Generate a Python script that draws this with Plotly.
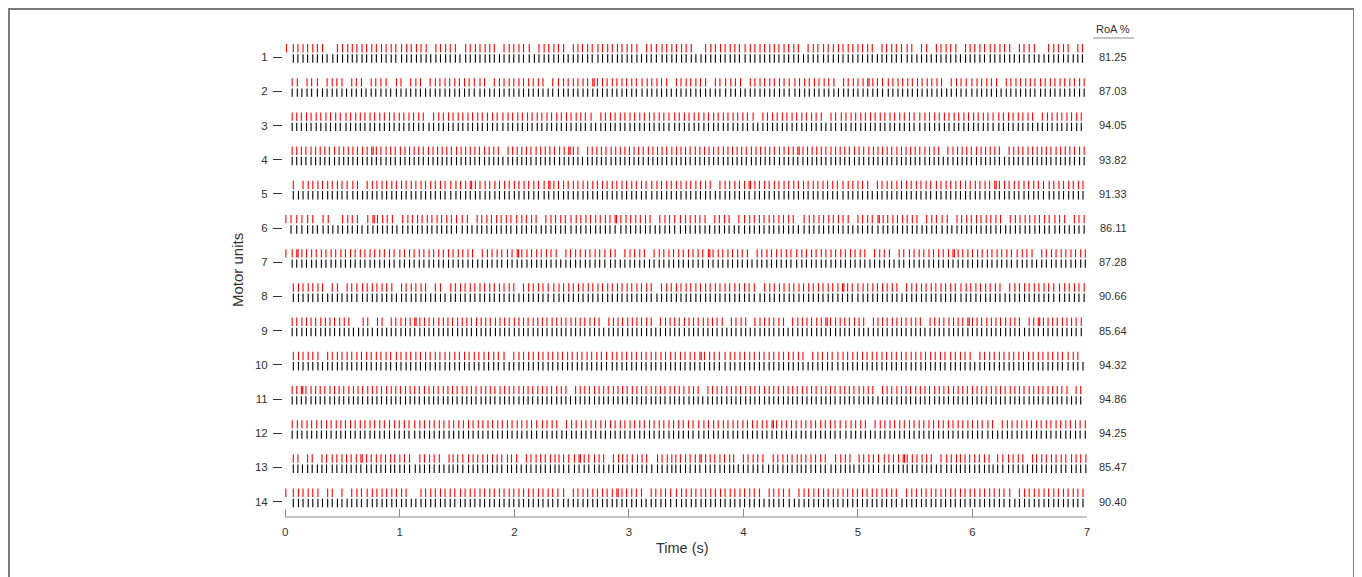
import plotly.graph_objects as go

# ---------------- data ----------------
units = list(range(1, 15))
unit_labels = [str(u) for u in units]
roa_values = ["81.25", "87.03", "94.05", "93.82", "91.33", "86.11", "87.28",
              "90.66", "85.64", "94.32", "94.86", "94.25", "85.47", "90.40"]
x_tick_vals = [0, 1, 2, 3, 4, 5, 6, 7]
x_tick_text = ["0", "1", "2", "3", "4", "5", "6", "7"]

# first black spike time (s) for each unit
train_start = [0.07, 0.06, 0.06, 0.06, 0.07, 0.05, 0.06, 0.07, 0.06, 0.07, 0.06, 0.06, 0.07, 0.07]
# isolated early red spike near t = 0 (None when absent)
red_lead = [0.01, None, None, None, None, 0.005, 0.005, None, None, None, None, None, None, 0.005]

# black (reference) trains: inter-spike intervals, base-36 chars, unit = 5 ms
black_isi = [
    "8989898a89" "9889898989" "8a98989898" "9898a89898" "8989898a98" "9898989889" "8a89898989" "8989a89898" "9898989898" "8a98989889" "8989898a89" "9898989898" "8989a89898" "9898989889" "8a89898989" "9898989898" "8989a89898",
    "9898a98989" "8989898998" "a898989898" "9898989a89" "8989898989" "898a989898" "9898989898" "a989898989" "8989898a98" "9898989898" "9a89898989" "8989898989" "a898989898" "9898989a98" "9898989898" "8a89898989" "8989898989",
    "8898989898" "a898898989" "8989898a89" "8989898989" "98a9898989" "8989898988" "a898989898" "9898989a89" "8989898989" "898a898989" "8989898989" "8a89898989" "8989898a98" "9898989898" "989a898989" "8989898989" "8a89898989",
    "8889888898" "8888988889" "8898888898" "8888988888" "9888898888" "8988889888" "8898888988" "8888898888" "9888898888" "8988888988" "8889888898" "8888988889" "8898888898" "8888988888" "9888898888" "8988889888" "8898888988" "8888898888",
    "9898989898" "9a89898989" "8989898989" "8a98989898" "9898989898" "a898989898" "9898989898" "98a9898989" "8989898989" "898a898989" "8989898989" "8a98989898" "9898989898" "a898989898" "9898989898" "989a898989" "8989898989",
    "a9a98a9898" "9898a98989" "8a98989898" "989a989898" "9898a98989" "89898a9898" "98989a9898" "9898989a98" "9898989898" "a989898989" "89a9898989" "8989898a98" "9898989898" "a989898989" "8989898989" "898a898989" "8989898989",
    "8989898989" "8989898989" "8a89898989" "8989898989" "898a898989" "8989898989" "8989a89898" "9898989898" "9898a89898" "9898989898" "98a9898989" "8989898989" "89898a8989" "8989898989" "8989898a98" "9898989898" "9898989898",
    "9898989898" "989a898989" "8989898989" "8a89898989" "8989898989" "89a9898989" "8989898989" "898a898989" "8989898989" "8989a89898" "9898989898" "9898a98989" "8989898989" "89898a9898" "9898989898" "98989a9898" "9898989898",
    "8988898889" "8889888988" "8898889888" "9888988898" "8898889888" "9888988898" "8898889888" "9888988898" "8898889888" "9888988898" "8898889888" "9888988898" "8898889888" "9888988898" "8898889888" "9888988898" "8898889888" "9888988898",
    "9898989898" "9898989898" "a898989898" "9898989898" "98a9898989" "8989898989" "8989a89898" "9898989898" "9898989a98" "9898989898" "9898989898" "a989898989" "8989898989" "898a898989" "8989898989" "8989898a98" "9898989898",
    "8889888988" "8988898889" "8889888988" "8988898889" "8889888988" "8988898889" "8889888988" "8988898889" "8889888988" "8988898889" "8889888988" "8988898889" "8889888988" "8988898889" "8889888988" "8988898889" "8889888988" "8988898889",
    "9898989898" "8989898989" "9898a98989" "8989898989" "8989898989" "a898989898" "9898989898" "9898989898" "98a9898989" "8989898989" "8989898989" "89a9898989" "8989898989" "8989898989" "8a89898989" "8989898989" "8989898989",
    "8898988a89" "8898a89889" "7989a88989" "89789a8898" "988a798989" "8898789a89" "8a88989789" "9889a89878" "9898a88989" "7898989a88" "9889789898" "a898879898" "9a88987989" "8898a89788" "9898789a89" "8897989898" "a889798989" "8989898989",
    "9898989898" "9898a98989" "8989898989" "898a898989" "8989898989" "8989a89898" "9898989898" "9898989a98" "9898989898" "9898989898" "a989898989" "8989898989" "898a898989" "8989898989" "89898a9898" "9898989898" "9898989898",
]

# red (decomposed) trains as read against each black spike:
# 1 = red spike present, 0 = missed, 2 = red spike plus an extra close spike
red_match = [
    "1111111001" "1111111111" "1111111101" "1111011111" "1101111110" "1111110111" "1111111111" "1011111111" "1100111111" "1111111111" "1111011111" "1111111110" "1111111011" "0111110111" "1111111011" "1100111110" "1111011111" "1111111111",
    "1101110111" "1011101111" "0110111011" "1111111111" "0111111111" "1101111111" "1211111111" "1111111011" "1111101111" "1101111111" "1111111111" "1011111211" "1111111111" "1110111111" "1111011111" "1111111111" "1101111111" "1111111111",
    "1111111111" "1111111111" "1111111101" "1111111111" "1111111111" "1111111111" "1101111111" "1111111111" "1111111111" "1111101111" "1111111110" "1111111111" "1111111111" "1111111111" "1111111111" "1101111111" "1111111111" "1111111111",
    "1111111111" "1111111211" "1111111111" "1111111111" "1111101111" "1111111112" "1101111111" "1111111111" "1111111111" "1111111111" "1111111121" "1111111111" "1111111111" "1111111110" "1111111111" "1101111111" "1111111111" "1111111011",
    "1011111111" "1111011111" "1111111111" "1111112111" "1111111111" "1121111111" "1111111111" "1111111111" "1111110111" "1112111111" "1111111111" "1111111101" "1111111111" "1111111111" "1112111111" "1111111111" "1111111111" "1111111111",
    "1111101100" "1111012111" "1011111111" "1111110111" "1111111111" "0111111111" "1111121111" "1110111111" "1111011110" "1111111111" "1101111111" "1110111121" "1111111011" "1110111111" "1111011111" "1111111011" "1111111101" "1111111111",
    "1211111111" "1111111111" "1111111111" "1111111101" "1111112111" "1111101111" "1111111011" "1110111111" "1111121111" "1111011111" "1111111111" "1111111101" "1110111111" "1111121111" "1111111111" "1101111111" "1111111110" "1111111111",
    "1111111011" "0111111111" "1011111101" "1011111111" "1111110111" "1111111111" "1111111111" "1111011111" "1111111111" "1111101111" "1111111111" "1121111111" "1111011111" "1111111111" "1111101111" "1111111111" "1111111111" "1111111111",
    "1111111111" "1110011011" "0111112111" "1111111111" "1111111111" "1111111111" "1111110111" "1111111011" "1111111111" "1101111011" "1111101111" "1112111111" "1101111111" "1111011111" "1112111111" "1111101121" "1111111111" "1111111111",
    "1111110111" "1111111111" "1111111111" "1111111111" "1111011111" "1111111111" "1111111111" "1111111111" "1112111111" "1111111111" "1111101111" "1111111111" "1111111111" "1111111110" "1111111111" "1111111111" "1011111111" "1111111111",
    "1121111111" "1111111111" "1111111111" "1111111111" "1111111111" "1111111110" "1111111111" "1111111111" "1111111011" "1111111111" "1111111111" "1111111111" "1111011111" "1111111111" "1111111111" "1111111111" "1111101111" "1111111111",
    "1111111111" "1111111111" "1111111111" "1111111111" "1111111111" "1111101111" "1111111111" "1111111111" "1111111111" "1111111121" "1111111111" "1111111101" "1111111111" "1111111111" "1111011111" "1111111111" "1111111111" "1110111111",
    "1101101111" "1111211111" "1111101111" "1011111111" "1111111011" "1111111112" "1111101111" "1111011111" "1111211111" "1101111101" "1111111111" "1011110111" "1111112111" "1110111111" "1111101111" "1101111111" "1111111111" "1111111111",
    "1111110110" "1011111111" "1111001111" "1111111111" "1111111111" "1111110111" "1111112111" "1101111111" "1111111111" "1111110111" "1101111111" "1111111111" "1111011111" "1111111111" "1111111011" "1111111111" "1111111111" "1111111111",
]
ISI_UNIT = 0.005
EXTRA_GAP = 0.012
T_END = 6.99

# ---------------- layout constants (screen px of the page) ----------------
FONT = "Liberation Sans, Arial, Helvetica, sans-serif"
OFF = 8                      # page body margin: figure origin sits at screen (8, 8)
W, H = 1348, 577
PLOT_L, PLOT_R, PLOT_T, PLOT_B = 283, 1087, 40, 517   # screen px
ML = PLOT_L - OFF
MR = W - (PLOT_R - OFF)
MT = PLOT_T - OFF
MB = H - (PLOT_B - OFF)
X0 = -0.02
Y_RANGE = [14.45, 0.50]
BLACK_OFF = 0.04
RED_OFF = -0.26
SPIKE_SIZE = 6               # line-ns marker length is 1.4 * size px


def decode_train(start, isi):
    times = [start]
    t = start
    for ch in isi:
        t += int(ch, 36) * ISI_UNIT
        if t > T_END:
            break
        times.append(round(t, 4))
    return times


fig = go.Figure()
for i, u in enumerate(units):
    bt = decode_train(train_start[i], black_isi[i])
    rt = [] if red_lead[i] is None else [red_lead[i]]
    for t, m in zip(bt, red_match[i]):
        if m in "12":
            rt.append(t)
        if m == "2" and t + EXTRA_GAP <= T_END:
            rt.append(round(t + EXTRA_GAP, 4))
    fig.add_trace(go.Scatter(
        x=bt, y=[u + BLACK_OFF] * len(bt), mode="markers",
        marker=dict(symbol="line-ns", size=SPIKE_SIZE, line=dict(color="#000000", width=1.1)),
        cliponaxis=False, showlegend=False, hoverinfo="x"))
    fig.add_trace(go.Scatter(
        x=rt, y=[u + RED_OFF] * len(rt), mode="markers",
        marker=dict(symbol="line-ns", size=SPIKE_SIZE, line=dict(color="#ff0000", width=1.1)),
        cliponaxis=False, showlegend=False, hoverinfo="x"))

plot_w = PLOT_R - PLOT_L
plot_h = PLOT_B - PLOT_T


def px_to_paper_x(px):
    return (px - PLOT_L) / plot_w


def px_to_paper_y(py):
    return (PLOT_B - py) / plot_h


annotations = [
    dict(text="Time (s)", x=px_to_paper_x(682), y=px_to_paper_y(548), xref="paper", yref="paper",
         showarrow=False, font=dict(size=14.5, color="#333333", family=FONT),
         xanchor="center", yanchor="middle"),
    dict(text="Motor units", x=px_to_paper_x(237), y=px_to_paper_y(270), xref="paper", yref="paper",
         showarrow=False, textangle=-90, font=dict(size=15, color="#333333", family=FONT),
         xanchor="center", yanchor="middle"),
    dict(text="RoA %", x=px_to_paper_x(1113), y=px_to_paper_y(29), xref="paper", yref="paper",
         showarrow=False, font=dict(size=11, color="#333333", family=FONT),
         xanchor="center", yanchor="middle"),
]
for u, v in zip(units, roa_values):
    annotations.append(dict(text=v, x=px_to_paper_x(1113), y=u, xref="paper", yref="y",
                            showarrow=False, font=dict(size=11, color="#333333", family=FONT),
                            xanchor="center", yanchor="middle"))

shapes = [
    # x-axis baseline from 0 to 7
    dict(type="line", xref="x", yref="paper", x0=x_tick_vals[0], x1=x_tick_vals[-1], y0=0, y1=0,
         line=dict(color="#8a8a8a", width=1.2)),
    # underline of RoA header
    dict(type="line", xref="paper", yref="paper", x0=px_to_paper_x(1093), x1=px_to_paper_x(1134),
         y0=px_to_paper_y(38), y1=px_to_paper_y(38), line=dict(color="#8a8a8a", width=1)),
    # outer frame
    dict(type="rect", xref="paper", yref="paper", x0=px_to_paper_x(9), x1=px_to_paper_x(1354),
         y0=px_to_paper_y(600), y1=px_to_paper_y(9), line=dict(color="#7a7a7a", width=2),
         fillcolor="rgba(0,0,0,0)"),
]

fig.update_layout(
    width=W, height=H,
    margin=dict(l=ML, r=MR, t=MT, b=MB, pad=0),
    paper_bgcolor="white", plot_bgcolor="white",
    font=dict(family=FONT, size=11, color="#333333"),
    showlegend=False,
    annotations=annotations,
    shapes=shapes,
    xaxis=dict(range=[X0, x_tick_vals[-1]], tickvals=x_tick_vals, ticktext=x_tick_text,
               ticks="inside", ticklen=8, tickcolor="#8a8a8a", tickwidth=1.2,
               showline=False, showgrid=False, zeroline=False,
               tickfont=dict(size=11.5, color="#333333", family=FONT), ticklabelstandoff=6),
    yaxis=dict(range=Y_RANGE, tickvals=units, ticktext=unit_labels,
               ticks="outside", ticklen=9, tickcolor="#333333", tickwidth=1.2,
               showline=False, showgrid=False, zeroline=False,
               tickfont=dict(size=11.5, color="#333333", family=FONT), ticklabelstandoff=3),
)

fig.write_html("out.html")
